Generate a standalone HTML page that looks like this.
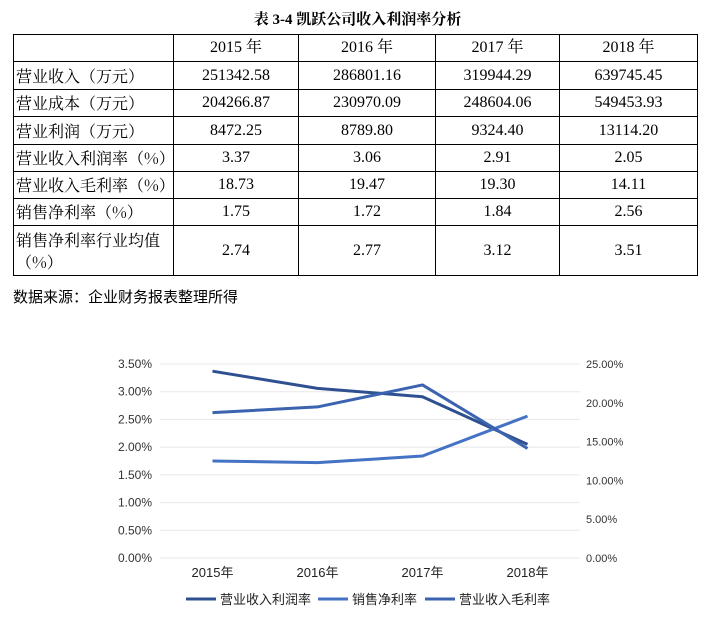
<!DOCTYPE html>
<html><head><meta charset="utf-8"><style>
body{margin:0;background:#fff;width:715px;height:618px;position:relative;overflow:hidden;font-family:"Liberation Serif","Noto Serif CJK SC",serif;color:#000}
#title{position:absolute;left:0;width:715px;top:8px;text-align:center;font-weight:bold;font-size:15px}
table{position:absolute;left:13px;top:34px;border-collapse:collapse;font-size:16px}
td{border:1.5px solid #000;padding:0;text-align:center;height:26px;line-height:18px}
td.l{text-align:left;padding-left:2px;font-family:"Noto Serif CJK SC",serif;font-size:16px}
#src{position:absolute;left:13px;top:286px;font-size:15px;font-family:"Noto Sans CJK SC",sans-serif}
svg{position:absolute;left:0;top:0}
</style></head><body>
<div id="title">表 3-4 凯跃公司收入利润率分析</div>
<table>
<colgroup><col style="width:160px"><col style="width:125px"><col style="width:137px"><col style="width:124px"><col style="width:138px"></colgroup>
<tr style="height:27px"><td></td><td>2015 年</td><td>2016 年</td><td>2017 年</td><td>2018 年</td></tr>
<tr style="height:28px"><td class="l">营业收入（万元）</td><td>251342.58</td><td>286801.16</td><td>319944.29</td><td>639745.45</td></tr>
<tr style="height:27px"><td class="l">营业成本（万元）</td><td>204266.87</td><td>230970.09</td><td>248604.06</td><td>549453.93</td></tr>
<tr style="height:28px"><td class="l">营业利润（万元）</td><td>8472.25</td><td>8789.80</td><td>9324.40</td><td>13114.20</td></tr>
<tr style="height:27px"><td class="l">营业收入利润率（%）</td><td>3.37</td><td>3.06</td><td>2.91</td><td>2.05</td></tr>
<tr style="height:27px"><td class="l">营业收入毛利率（%）</td><td>18.73</td><td>19.47</td><td>19.30</td><td>14.11</td></tr>
<tr style="height:27px"><td class="l">销售净利率（%）</td><td>1.75</td><td>1.72</td><td>1.84</td><td>2.56</td></tr>
<tr style="height:50px"><td class="l" style="line-height:22px">销售净利率行业均值（%）</td><td>2.74</td><td>2.77</td><td>3.12</td><td>3.51</td></tr>
</table>
<div id="src">数据来源：企业财务报表整理所得</div>
<svg id="chart" width="715" height="618"></svg>
<script>
const categories=["2015年","2016年","2017年","2018年"];
const profitRate=[3.37,3.06,2.91,2.05];
const netRate=[1.75,1.72,1.84,2.56];
const grossRate=[18.73,19.47,22.3,14.11];
const leftTicks=[0,0.5,1,1.5,2,2.5,3,3.5];
const rightTicks=[0,5,10,15,20,25];
const legendNames=["营业收入利润率","销售净利率","营业收入毛利率"];
const colors=["#2F5090","#4472C4","#3B63B0"];
const NS="http://www.w3.org/2000/svg";
const svg=document.getElementById('chart');
const X0=160,X1=580,Y0=558,Y1=364;
const yL=v=>Y0-(v/3.5)*(Y0-Y1);
const yR=v=>Y0-(v/25)*(Y0-Y1);
const xC=i=>X0+(i+0.5)*(X1-X0)/categories.length;
function mk(t,a){const e=document.createElementNS(NS,t);for(const k in a)e.setAttribute(k,a[k]);svg.appendChild(e);return e;}
leftTicks.forEach(v=>{
 const g=mk('line',{x1:X0,x2:X1,y1:yL(v),y2:yL(v),stroke:'#e8e8e8','stroke-width':1});
 
 
 const t=mk('text',{x:152,y:yL(v)+4,'text-anchor':'end','font-size':12,fill:'#333','font-family':'Liberation Sans, sans-serif'});
 t.textContent=v.toFixed(2)+'%';
 
 
});
rightTicks.forEach(v=>{
 const t=mk('text',{x:586,y:yR(v)+4,'font-size':11,fill:'#333','font-family':'Liberation Sans, sans-serif'});
 t.textContent=v.toFixed(2)+'%';
 
 
});
categories.forEach((c,i)=>{
 const t=mk('text',{x:xC(i),y:577,'text-anchor':'middle','font-size':13,fill:'#222','font-family':'Liberation Sans, Noto Sans CJK SC, sans-serif'});
 t.textContent=c;
 
 
});
[[profitRate,yL],[netRate,yL],[grossRate,yR]].forEach(([d,f],s)=>{
 const p=mk('polyline',{points:d.map((v,i)=>xC(i)+','+f(v)).join(' '),fill:'none',stroke:colors[s],'stroke-width':3,'stroke-linejoin':'round'});
 
 
});
const lx=[186,318,425];
legendNames.forEach((n,s)=>{
 const l=mk('line',{x1:lx[s],x2:lx[s]+30,y1:599,y2:599,stroke:colors[s],'stroke-width':3});
 
 
 const t=mk('text',{x:lx[s]+34,y:604,'font-size':13,fill:'#222','font-family':'Noto Sans CJK SC, sans-serif'});
 t.textContent=n;
 
 
});
</script>
</body></html>
